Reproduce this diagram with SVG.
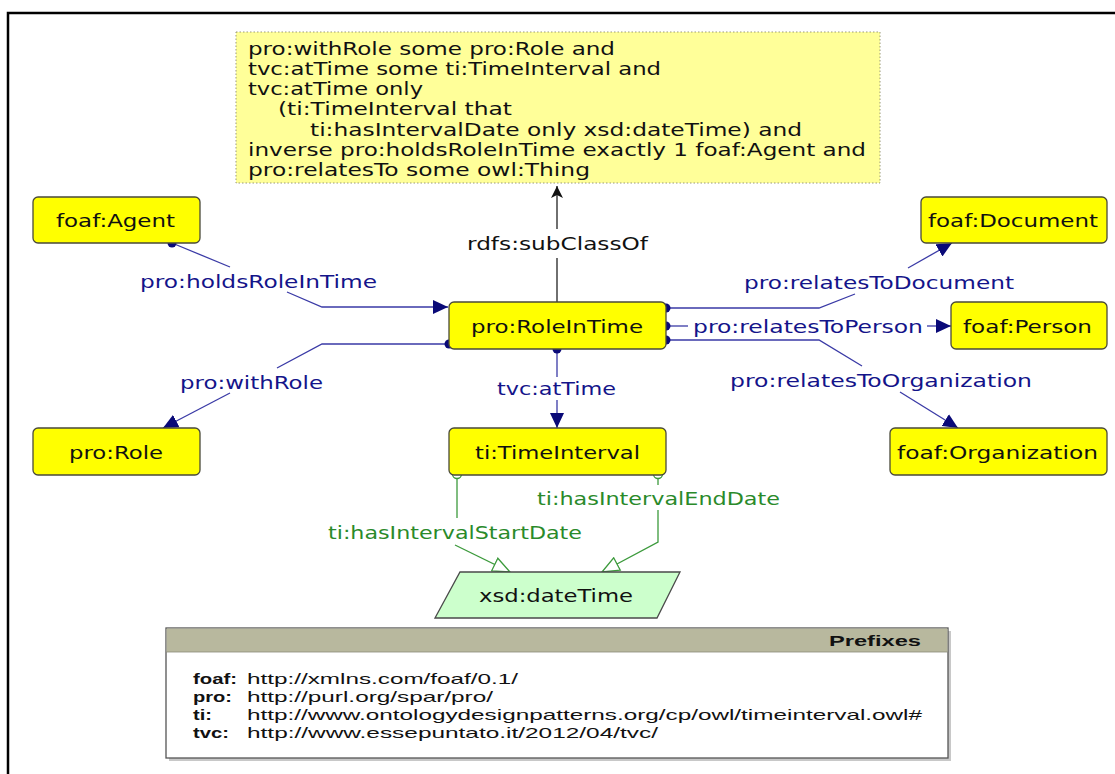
<svg xmlns="http://www.w3.org/2000/svg" width="1115" height="774" viewBox="0 0 1115 774">
<style>
  .bg { fill: #ffffff; }
  .frame { stroke: #000; stroke-width: 2.5; fill: none; }
  .cls { fill: #ffff00; stroke: #4a4a3a; stroke-width: 1.3; }
  .dt { fill: #ccffcc; stroke: #4a4a4a; stroke-width: 1.3; }
  .note { fill: #ffff99; stroke: #9a9a7a; stroke-width: 1; stroke-dasharray: 1.5 2; }
  .t { font-family: "DejaVu Sans", "Noto Sans", sans-serif; font-size: 18px; fill: #111; }
  .nt { font-family: "DejaVu Sans", "Noto Sans", sans-serif; font-size: 17.5px; fill: #111; }
  .lb { font-family: "DejaVu Sans", "Noto Sans", sans-serif; font-size: 18px; fill: #14148a; }
  .lg { font-family: "DejaVu Sans", "Noto Sans", sans-serif; font-size: 18px; fill: #2a8a2a; }
  .lk { font-family: "DejaVu Sans", "Noto Sans", sans-serif; font-size: 18px; fill: #111; }
  .eb { fill: none; stroke: #3a3aa6; stroke-width: 1.3; }
  .eg { fill: none; stroke: #3c9a3c; stroke-width: 1.3; }
  .ek { fill: none; stroke: #222; stroke-width: 1.3; }
  .dot { fill: #0a0a78; }
  .odot { fill: #ffffff; stroke: #3c9a3c; stroke-width: 1.3; }
  .pf { font-family: "Liberation Sans", Arial, sans-serif; font-size: 15px; fill: #111; }
  .pfb { font-family: "Liberation Sans", Arial, sans-serif; font-size: 15px; font-weight: bold; fill: #111; }
</style>
<defs>
  <marker id="ab" markerUnits="userSpaceOnUse" markerWidth="16" markerHeight="14" refX="15" refY="7" orient="auto">
    <path d="M0,0 L15,7 L0,14 z" fill="#0a0a78"/>
  </marker>
  <marker id="ag" markerUnits="userSpaceOnUse" markerWidth="20" markerHeight="16" refX="18" refY="8" orient="auto">
    <path d="M1,1 L18,8 L1,15 z" fill="#ffffff" stroke="#3c9a3c" stroke-width="1.3"/>
  </marker>
  <marker id="ak" markerUnits="userSpaceOnUse" markerWidth="14" markerHeight="12" refX="12" refY="6" orient="auto">
    <path d="M0,0 L12,6 L0,12 L3,6 z" fill="#111"/>
  </marker>
</defs>
<rect class="bg" x="0" y="0" width="1115" height="774"/>
<path class="frame" d="M8,774 L8,13 L1115,13"/>

<g id="note">
  <rect class="note" x="236" y="32" width="644" height="151"/>
  <text class="nt" x="248" y="54.5" textLength="367" lengthAdjust="spacingAndGlyphs">pro:withRole some pro:Role and</text>
  <text class="nt" x="248" y="75" textLength="413" lengthAdjust="spacingAndGlyphs">tvc:atTime some ti:TimeInterval and</text>
  <text class="nt" x="248" y="95" textLength="175" lengthAdjust="spacingAndGlyphs">tvc:atTime only</text>
  <text class="nt" x="278" y="115" textLength="234" lengthAdjust="spacingAndGlyphs">(ti:TimeInterval that</text>
  <text class="nt" x="310" y="135.5" textLength="492" lengthAdjust="spacingAndGlyphs">ti:hasIntervalDate only xsd:dateTime) and</text>
  <text class="nt" x="248" y="155.5" textLength="618" lengthAdjust="spacingAndGlyphs">inverse pro:holdsRoleInTime exactly 1 foaf:Agent and</text>
  <text class="nt" x="248" y="175.5" textLength="342" lengthAdjust="spacingAndGlyphs">pro:relatesTo some owl:Thing</text>
</g>

<g id="connectors">
  <!-- rdfs:subClassOf -->
  <path class="ek" d="M557,302 L557,258"/>
  <path class="ek" d="M557,229 L557,186" marker-end="url(#ak)"/>
  <text class="lk" x="467" y="249.5" textLength="181" lengthAdjust="spacingAndGlyphs">rdfs:subClassOf</text>
  <!-- pro:holdsRoleInTime -->
  <path class="eb" d="M172,243 L230,267"/>
  <path class="eb" d="M287,292 L322,307 L448,307" marker-end="url(#ab)"/>
  <circle class="dot" cx="172" cy="243" r="4.5"/>
  <text class="lb" x="140" y="287.5" textLength="237" lengthAdjust="spacingAndGlyphs">pro:holdsRoleInTime</text>
  <!-- pro:withRole -->
  <path class="eb" d="M449,344 L322,344 L277,368"/>
  <path class="eb" d="M230,393 L163,428" marker-end="url(#ab)"/>
  <circle class="dot" cx="449" cy="344" r="4.5"/>
  <text class="lb" x="180" y="388.5" textLength="143" lengthAdjust="spacingAndGlyphs">pro:withRole</text>
  <!-- tvc:atTime -->
  <path class="eb" d="M557,349 L557,377"/>
  <path class="eb" d="M557,400 L557,428" marker-end="url(#ab)"/>
  <circle class="dot" cx="557" cy="349" r="4.5"/>
  <text class="lb" x="497" y="394.5" textLength="119" lengthAdjust="spacingAndGlyphs">tvc:atTime</text>
  <!-- pro:relatesToDocument -->
  <path class="eb" d="M666,308 L819,308 L855,294"/>
  <path class="eb" d="M908,268 L952,243" marker-end="url(#ab)"/>
  <circle class="dot" cx="666" cy="308" r="4.5"/>
  <text class="lb" x="744" y="288.5" textLength="270" lengthAdjust="spacingAndGlyphs">pro:relatesToDocument</text>
  <!-- pro:relatesToPerson -->
  <path class="eb" d="M666,326 L688,326"/>
  <path class="eb" d="M927,326 L951,326" marker-end="url(#ab)"/>
  <circle class="dot" cx="666" cy="326" r="4.5"/>
  <text class="lb" x="693" y="332.5" textLength="230" lengthAdjust="spacingAndGlyphs">pro:relatesToPerson</text>
  <!-- pro:relatesToOrganization -->
  <path class="eb" d="M666,340 L819,340 L862,366"/>
  <path class="eb" d="M900,392 L958,428" marker-end="url(#ab)"/>
  <circle class="dot" cx="666" cy="340" r="4.5"/>
  <text class="lb" x="730" y="386.5" textLength="302" lengthAdjust="spacingAndGlyphs">pro:relatesToOrganization</text>
  <!-- ti:hasIntervalStartDate -->
  <path class="eg" d="M457,479 L457,518"/>
  <path class="eg" d="M455,545 L510,572" marker-end="url(#ag)"/>
  <circle class="odot" cx="457" cy="474" r="4.5"/>
  <text class="lg" x="328" y="538.5" textLength="254" lengthAdjust="spacingAndGlyphs">ti:hasIntervalStartDate</text>
  <!-- ti:hasIntervalEndDate -->
  <path class="eg" d="M658,479 L658,485"/>
  <path class="eg" d="M658,510 L658,542 L602,572" marker-end="url(#ag)"/>
  <circle class="odot" cx="658" cy="474" r="4.5"/>
  <text class="lg" x="537" y="504.5" textLength="243" lengthAdjust="spacingAndGlyphs">ti:hasIntervalEndDate</text>
</g>

<g id="foaf-Agent">
  <rect class="cls" x="33" y="197" width="167" height="46" rx="5"/>
  <text class="t" x="56" y="227" textLength="119" lengthAdjust="spacingAndGlyphs">foaf:Agent</text>
</g>
<g id="pro-Role">
  <rect class="cls" x="33" y="428" width="167" height="47" rx="5"/>
  <text class="t" x="69" y="458.5" textLength="94" lengthAdjust="spacingAndGlyphs">pro:Role</text>
</g>
<g id="pro-RoleInTime">
  <rect class="cls" x="449" y="302" width="217" height="47" rx="5"/>
  <text class="t" x="471" y="332.5" textLength="172" lengthAdjust="spacingAndGlyphs">pro:RoleInTime</text>
</g>
<g id="ti-TimeInterval">
  <rect class="cls" x="449" y="428" width="217" height="47" rx="5"/>
  <text class="t" x="475" y="458.5" textLength="165" lengthAdjust="spacingAndGlyphs">ti:TimeInterval</text>
</g>
<g id="foaf-Document">
  <rect class="cls" x="921" y="197" width="186" height="46" rx="5"/>
  <text class="t" x="928" y="227" textLength="170" lengthAdjust="spacingAndGlyphs">foaf:Document</text>
</g>
<g id="foaf-Person">
  <rect class="cls" x="951" y="302" width="156" height="47" rx="5"/>
  <text class="t" x="963" y="332.5" textLength="129" lengthAdjust="spacingAndGlyphs">foaf:Person</text>
</g>
<g id="foaf-Organization">
  <rect class="cls" x="890" y="428" width="217" height="47" rx="5"/>
  <text class="t" x="897" y="458.5" textLength="201" lengthAdjust="spacingAndGlyphs">foaf:Organization</text>
</g>
<g id="xsd-dateTime">
  <polygon class="dt" points="460,572 680,572 657,618 435,618"/>
  <text class="t" x="479" y="602" textLength="154" lengthAdjust="spacingAndGlyphs">xsd:dateTime</text>
</g>

<g id="prefixes">
  <rect x="169" y="631" width="782" height="130" fill="#c8c8c8"/>
  <rect x="166" y="628" width="782" height="130" fill="#ffffff" stroke="#555" stroke-width="1.3"/>
  <rect x="166.6" y="628.6" width="780.8" height="23.4" fill="#b8b89e"/>
  <line x1="166" y1="652" x2="948" y2="652" stroke="#8a8a78" stroke-width="0.8"/>
  <text class="pfb" x="829" y="645.5" textLength="92" lengthAdjust="spacingAndGlyphs">Prefixes</text>
  <text class="pfb" x="193" y="683.5" textLength="44" lengthAdjust="spacingAndGlyphs">foaf:</text>
  <text class="pfb" x="193" y="701.5" textLength="39" lengthAdjust="spacingAndGlyphs">pro:</text>
  <text class="pfb" x="193" y="719.5" textLength="19" lengthAdjust="spacingAndGlyphs">ti:</text>
  <text class="pfb" x="193" y="737.5" textLength="36" lengthAdjust="spacingAndGlyphs">tvc:</text>
  <text class="pf" x="247" y="683.5" textLength="271" lengthAdjust="spacingAndGlyphs">http://xmlns.com/foaf/0.1/</text>
  <text class="pf" x="247" y="701.5" textLength="246" lengthAdjust="spacingAndGlyphs">http://purl.org/spar/pro/</text>
  <text class="pf" x="247" y="719.5" textLength="675" lengthAdjust="spacingAndGlyphs">http://www.ontologydesignpatterns.org/cp/owl/timeinterval.owl#</text>
  <text class="pf" x="247" y="737.5" textLength="411" lengthAdjust="spacingAndGlyphs">http://www.essepuntato.it/2012/04/tvc/</text>
</g>
</svg>
